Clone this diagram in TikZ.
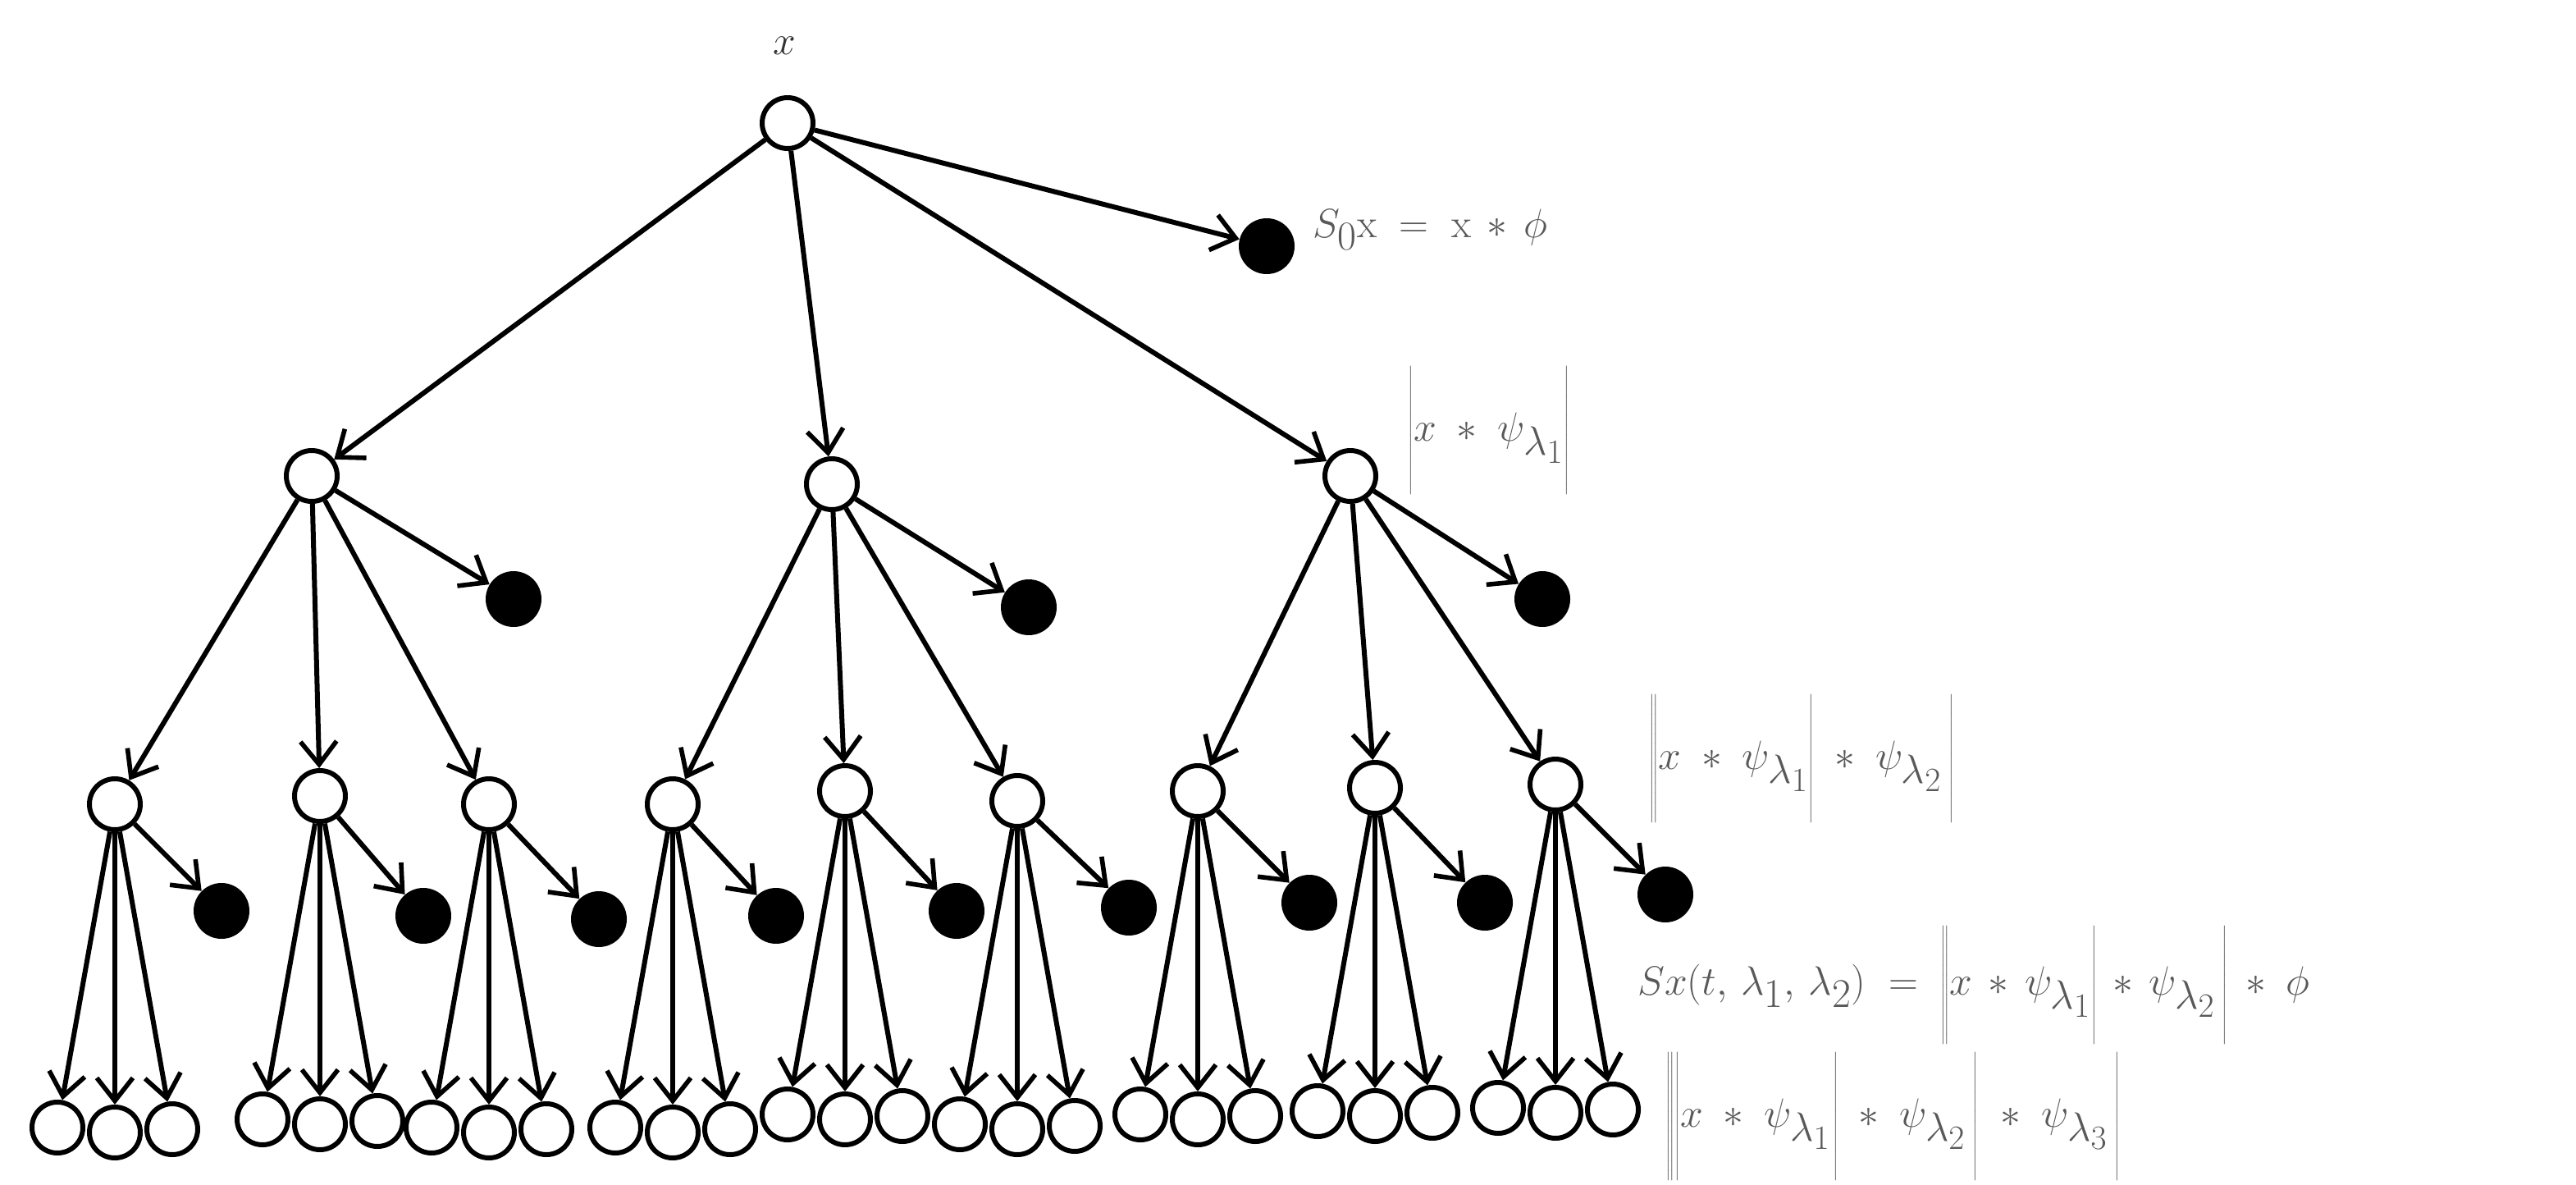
\documentclass[tikz,border=0pt]{standalone}
\usetikzlibrary{arrows.meta}
\newcommand{\tallstrut}{\rule[-0.45em]{0pt}{1.5em}}
\begin{document}
\begin{tikzpicture}[x=1pt,y=-1pt,
  open/.style={circle,draw,line width=3pt,fill=white,minimum size=31pt,inner sep=0pt},
  full/.style={circle,fill=black,minimum size=34pt,inner sep=0pt},
  arr/.style={-{Straight Barb[length=14pt,width=22pt,line width=2.8pt]},line width=3pt},
  lab/.style={text=black!65,font=\fontsize{44}{48}\selectfont,anchor=west,inner sep=0pt}]
\useasboundingbox (0,0) rectangle (1570,722);
\node (r) [open] at (480,75) {};
\node[font=\fontsize{56}{60}\selectfont,inner sep=0pt,text=black!80] (rl) at (478,28) {$x$};
\node (s0) [full] at (772,150) {};
\draw[arr] (r) -- (s0);
\node[lab] (l0) at (800,140) {$S_0\mathrm{x}\;=\;\mathrm{x}\,*\,\phi$};
\foreach \i/\x/\y/\fx/\fy in {1/190/290/313/365, 2/507/295/627/370, 3/823/290/940/365}{
  \node (a\i) [open] at (\x,\y) {};
  \node (af\i) [full] at (\fx,\fy) {};
  \draw[arr] (r) -- (a\i);
  \draw[arr] (a\i) -- (af\i);
}
\node[lab] (l1) at (858,262) {$\left|\tallstrut x\;*\;\psi_{\lambda_1}\right|$};
\foreach \j/\p/\x/\y/\fx/\fy in {1/1/70/490/135/555, 2/1/195/485/258/558, 3/1/298/490/365/560,
  4/2/410/490/473/558, 5/2/515/482/583/555, 6/2/620/488/688/553,
  7/3/730/482/798/550, 8/3/838/480/905/550, 9/3/948/478/1015/545}{
  \node (b\j) [open] at (\x,\y) {};
  \node (bf\j) [full] at (\fx,\fy) {};
  \draw[arr] (a\p) -- (b\j);
  \draw[arr] (b\j) -- (bf\j);
  \foreach \k/\dx/\dy in {1/-35/197, 2/0/200, 3/35/198}{
    \node (c\j\k) [open] at ({\x+\dx},{\y+\dy}) {};
    \draw[arr] (b\j) -- (c\j\k);
  }
}
\node[lab] (l2) at (1005,462) {$\left\|\tallstrut x\;*\;\psi_{\lambda_1}\right|\;*\;\psi_{\lambda_2}\left|\tallstrut\right.$};
\node[lab,font=\fontsize{40}{44}\selectfont] (l3) at (998,600) {$Sx(t,\,\lambda_1,\,\lambda_2)\;=\;\left\|\tallstrut x\,*\,\psi_{\lambda_1}\right|\,*\,\psi_{\lambda_2}\left|\tallstrut\right.\,*\;\phi$};
\node[lab] (l4) at (1015,680) {$\left\|\left|\tallstrut x\;*\;\psi_{\lambda_1}\right.\right|\;*\;\psi_{\lambda_2}\left|\tallstrut\right.\;*\;\psi_{\lambda_3}\left|\tallstrut\right.$};
\end{tikzpicture}
\end{document}
